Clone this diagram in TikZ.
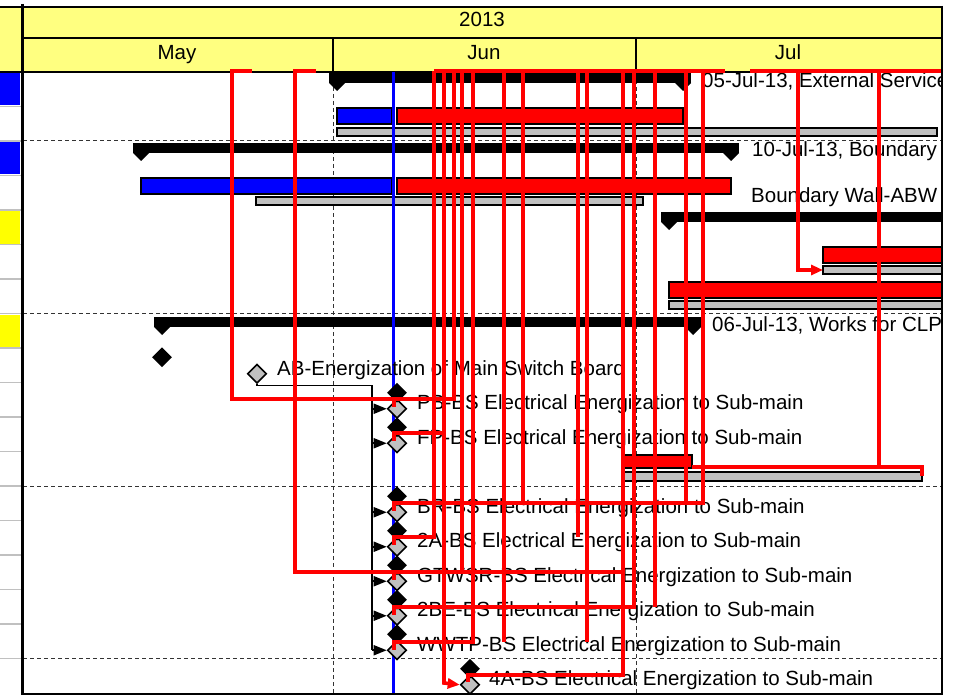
\documentclass[tikz,border=0pt]{standalone}
\usepackage{fontspec}
\setmainfont{Liberation Sans}
\usetikzlibrary{shapes.geometric,arrows.meta}
\definecolor{hdr}{HTML}{FFFF80}
\definecolor{cellyellow}{HTML}{FFFF00}
\definecolor{barblue}{HTML}{0000FF}
\definecolor{barred}{HTML}{FF0000}
\definecolor{bargray}{HTML}{C0C0C0}
\tikzset{
  txt/.style={inner sep=0pt, font=\fontsize{20.5}{24}\selectfont},
  lbl/.style={txt, anchor=base west},
  hlbl/.style={txt, anchor=base},
  bluebar/.style={draw=black, line width=1.3pt, fill=barblue},
  redbar/.style={draw=black, line width=1.3pt, fill=barred},
  graybar/.style={draw=black, line width=1.3pt, fill=bargray},
  msblack/.style={diamond, fill=black, minimum size=20pt, inner sep=0pt},
  msgray/.style={diamond, draw=black, line width=1.6pt, fill=bargray, minimum size=19pt, inner sep=0pt},
  conn/.style={draw=black, line width=1.8pt},
  blackhead/.style={-{Triangle[length=13pt,width=10pt]}},
  redlink/.style={draw=barred, line width=3.6pt},
  redhead/.style={-{Triangle[length=12pt,width=10pt]}},
  gridline/.style={draw=black!80, line width=1pt, dash pattern=on 4pt off 3pt},
  cellsep/.style={draw=bargray, line width=1.8pt},
}
\newcommand{\summarybar}[3]{% x1, x2, ytop
  \fill[black] (#1-8,#3) rectangle (#2+8,#3+10);
  \fill[black] (#1-8,#3+10) -- (#1+8,#3+10) -- (#1,#3+18) -- cycle;
  \fill[black] (#2-8,#3+10) -- (#2+8,#3+10) -- (#2,#3+18) -- cycle;
}
\begin{document}
\begin{tikzpicture}[x=1pt,y=-1pt]
\useasboundingbox (0,0) rectangle (963,695);
\fill[white] (0,0) rectangle (963,695);

% ---------- header ----------
\fill[hdr] (0,7) rectangle (942,72);
\draw[line width=2pt] (0,7) -- (942,7);
\draw[line width=1.6pt] (22,38) -- (942,38);
\draw[line width=1.6pt] (333,38) -- (333,72);
\draw[line width=1.6pt] (636,38) -- (636,72);
\draw[line width=2pt] (0,72) -- (942,72);
\node[hlbl] (year) at (482,27) {2013};
\node[hlbl] (may) at (177,60) {May};
\node[hlbl] (jun) at (484,60) {Jun};
\node[hlbl] (jul) at (788,60) {Jul};

% ---------- left column cells ----------
\foreach \k/\c in {1/barblue,2/white,3/barblue,4/white,5/cellyellow,6/white,7/white,8/cellyellow,
                   9/white,10/white,11/white,12/white,13/white,14/white,15/white,16/white,17/white,18/white}{
  \fill[\c] (0,{72+34.5*(\k-1)+1}) rectangle (20,{72+34.5*\k-1});
}
\foreach \k in {1,...,17}{
  \draw[cellsep] (0,{72+34.5*\k}) -- (21,{72+34.5*\k});
}

% ---------- grid ----------
\foreach \k in {2,7,12,17}{
  \draw[gridline] (23,{72+34.5*\k}) -- (941,{72+34.5*\k});
}
\draw[gridline] (333,73) -- (333,693);
\draw[gridline] (636,73) -- (636,693);

\begin{scope}
\clip (23,68) rectangle (941,693);

% ---------- summary bars ----------
\summarybar{337}{683}{73}
\summarybar{141}{731}{143}
\fill[black] (661,212) rectangle (950,222);
\fill[black] (661,222) -- (677,222) -- (669,230) -- cycle;
\summarybar{162}{693}{317}

% ---------- task bars ----------
\draw[bluebar] (337,108) rectangle (392,124);
\draw[redbar]  (397,108) rectangle (683,124);
\draw[graybar] (337,128) rectangle (937,136);

\draw[bluebar] (141,178) rectangle (392,194);
\draw[redbar]  (397,178) rectangle (731,194);
\draw[graybar] (256,197) rectangle (643,205);

\draw[redbar]  (823,247) rectangle (950,263);
\draw[graybar] (823,266) rectangle (950,274);
\coordinate (bar6) at (823,270);

\draw[redbar]  (669,282) rectangle (950,298);
\draw[graybar] (669,301) rectangle (950,309);

\draw[redbar]  (622,455) rectangle (692,468);
\draw[graybar] (622,472) rectangle (922,481);

% ---------- status date line ----------
\draw[barblue, line width=3pt] (393,72) -- (393,693);

% ---------- milestones ----------
\node[msblack] (b9) at (162,357.25) {};
\node[msgray]  (g9) at (257,373.75) {};
\foreach \r/\c in {10/399.75,11/434.25,13/503.25,14/537.75,15/572.25,16/606.75,17/641.25}{
  \node[msgray]  (g\r) at (397,\c+9) {};
  \node[msblack] (b\r) at (397,\c-7) {};
}
\node[msgray]  (g18) at (470,684.75) {};
\node[msblack] (b18) at (470,668.75) {};

% ---------- black dependency connectors ----------
\coordinate (jn) at (372,385.5);
\coordinate (jb) at (372,650.25);
\draw[conn] (g9.south) |- (jn) -- (jb);
\foreach \r in {10,11,13,14,15,16,17}{
  \draw[conn,blackhead] (jn |- g\r.west) -- (g\r.west);
}

% ---------- labels ----------
\node[lbl] (t1) at (702,88) {05-Jul-13, External Service};
\node[lbl] (t3) at (752,157) {10-Jul-13, Boundary};
\node[lbl] (t4) at (751,202) {Boundary Wall-ABW};
\node[lbl] (t8) at (712,331) {06-Jul-13, Works for CLP};
\node[lbl] (t9) at (277,375) {AB-Energization of Main Switch Board};
\node[lbl] (t10) at (417,409.5) {PB-BS Electrical Energization to Sub-main};
\node[lbl] (t11) at (417,444) {FP-BS Electrical Energization to Sub-main};
\node[lbl] (t13) at (417,513) {BR-BS Electrical Energization to Sub-main};
\node[lbl] (t14) at (417,547.5) {2A-BS Electrical Energization to Sub-main};
\node[lbl] (t15) at (417,582) {GTWSR-BS Electrical Energization to Sub-main};
\node[lbl] (t16) at (417,616.5) {2BE-BS Electrical Energization to Sub-main};
\node[lbl] (t17) at (417,651) {WWTP-BS Electrical Energization to Sub-main};
\node[lbl] (t18) at (489,685.5) {4A-BS Electrical Energization to Sub-main};

% ---------- red (critical) links ----------
\draw[redlink] (252,71) -- (232,71) -- (232,399) -- (394,399) -- (394,407);
\draw[redlink] (316,71) -- (295,71) -- (295,572) -- (394,572) -- (394,580);
\draw[redlink] (434,71) -- (725,71);
\draw[redlink] (750,71) -- (945,71);
\draw[redlink] (434,71) -- (434,537) -- (394,537) -- (394,545);
\draw[redlink] (444,433) -- (394,433) -- (394,441);
\draw[redlink,redhead] (444,71) -- (444,683) -- (g18.west);
\draw[redlink] (454,71) -- (454,399) -- (394,399);
\draw[redlink] (462,71) -- (462,572);
\draw[redlink] (473,71) -- (473,642) -- (394,642) -- (394,650);
\draw[redlink] (504,71) -- (504,642);
\draw[redlink] (523,71) -- (523,503) -- (394,503) -- (394,511);
\draw[redlink] (578,71) -- (578,537);
\draw[redlink] (587,71) -- (587,642);
\draw[redlink] (623,71) -- (623,675) -- (468,675) -- (468,682);
\draw[redlink] (623,572) -- (394,572);
\draw[redlink] (634,71) -- (634,607) -- (394,607) -- (394,615);
\draw[redlink] (655,71) -- (655,607);
\draw[redlink] (686,71) -- (686,503);
\draw[redlink] (703,71) -- (703,503) -- (394,503);
\draw[redlink,redhead] (798,71) -- (798,270) -- (bar6);
\draw[redlink] (692,467) -- (879,467) -- (922,467) -- (922,476);
\draw[redlink] (879,71) -- (879,467);
\end{scope}

% ---------- frame ----------
\draw[line width=3pt] (22,4) -- (22,695);
\draw[line width=2.4pt] (942,6) -- (942,695);
\draw[line width=2.4pt] (22,694) -- (942,694);
\end{tikzpicture}
\end{document}
